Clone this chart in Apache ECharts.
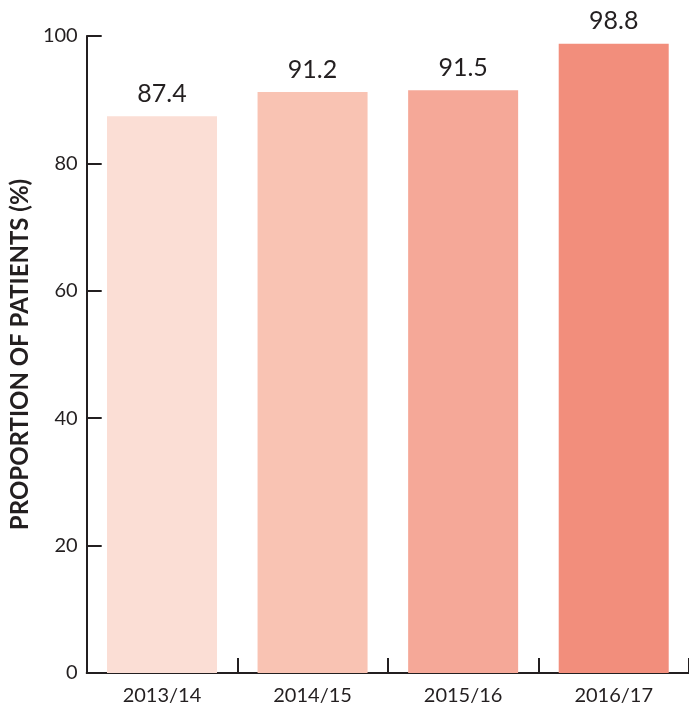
<!DOCTYPE html>
<html>
<head>
<meta charset="utf-8">
<script src="https://cdn.jsdelivr.net/npm/echarts@6/dist/echarts.min.js"></script>
<style>
  html, body { margin: 0; padding: 0; background: #fff; overflow: hidden; }
  #chart { width: 689px; height: 711px; }
</style>
</head>
<body>
<div id="chart"></div>
<script>
// Share of patients per financial year
const years = ['2013/14', '2014/15', '2015/16', '2016/17'];
const proportions = [87.4, 91.2, 91.5, 98.8];
const barColors = ['#FBDED5', '#F9C3B3', '#F5A898', '#F28E7C'];
const yTicks = [0, 20, 40, 60, 80, 100];

const ink = '#231F20';
const fontFamily = 'Lato, "Open Sans", sans-serif';

const chart = echarts.init(document.getElementById('chart'), null, { renderer: 'canvas' });

chart.setOption({
  animation: false,
  backgroundColor: '#ffffff',
  // plot area runs slightly past the right edge of the page
  grid: { left: 81, width: 614, top: 36, bottom: 38, containLabel: false },
  xAxis: {
    type: 'category',
    data: years,
    boundaryGap: true,
    axisLine: { show: true, lineStyle: { color: ink, width: 2 } },
    axisTick: { show: true, inside: true, length: 15, lineStyle: { color: ink, width: 2 } },
    axisLabel: { color: ink, fontSize: 20, fontFamily: fontFamily, margin: 13 }
  },
  yAxis: {
    type: 'value',
    min: yTicks[0],
    max: yTicks[yTicks.length - 1],
    interval: 20,
    name: 'PROPORTION OF PATIENTS (%)',
    nameLocation: 'middle',
    nameRotate: 90,
    nameGap: 42,
    nameTextStyle: { color: ink, fontSize: 24, fontWeight: 'bold', fontFamily: fontFamily },
    axisLine: { show: true, lineStyle: { color: ink, width: 2 } },
    axisTick: { show: true, inside: true, length: 15, lineStyle: { color: ink, width: 2 } },
    axisLabel: { color: ink, fontSize: 20, fontFamily: fontFamily, margin: 9 },
    splitLine: { show: false }
  },
  series: [{
    type: 'bar',
    data: proportions.map((v, i) => ({ value: v, itemStyle: { color: barColors[i] } })),
    barWidth: 110,
    label: {
      show: true,
      position: 'top',
      distance: 10,
      color: ink,
      fontSize: 25,
      fontFamily: fontFamily,
      formatter: p => p.value.toFixed(1)
    }
  }]
});
</script>
</body>
</html>
